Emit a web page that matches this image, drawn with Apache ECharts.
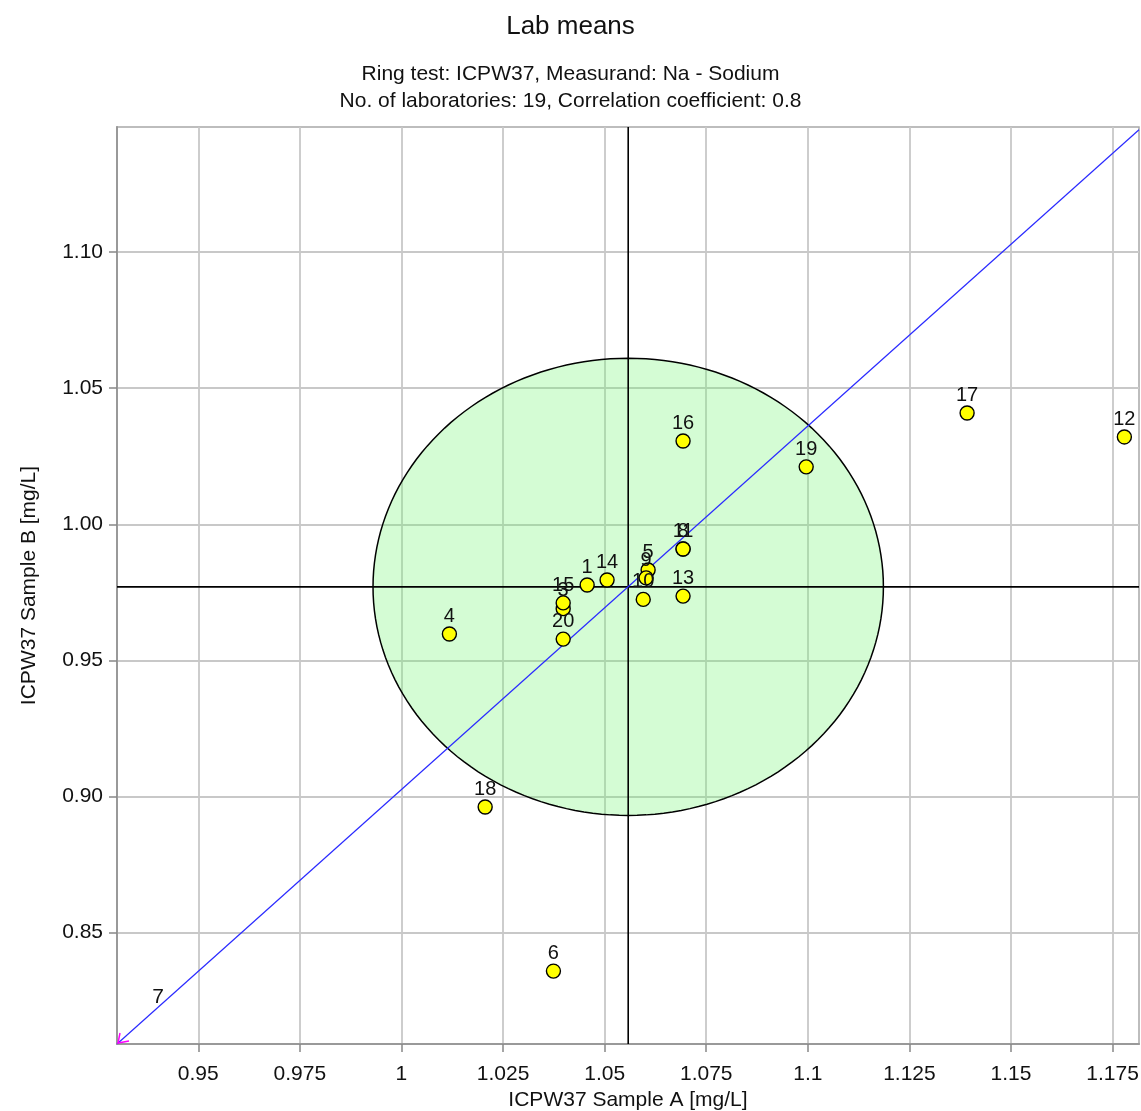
<!DOCTYPE html>
<html><head><meta charset="utf-8">
<script src="https://cdn.jsdelivr.net/npm/echarts@6/dist/echarts.min.js"></script>
<style>html,body{margin:0;padding:0;background:#fff}#c{width:1141px;height:1111px}</style>
</head><body><div id="c"></div>
<script>
// ---- data ----
const labIds  = ['1',    '3',    '4',    '5',    '6',    '8',    '9',    '10',   '11',   '12',   '13',   '14',   '15',   '16',   '17',   '18',   '19',   '20'];
const sampleA = [1.0457, 1.0398, 1.0118, 1.0607, 1.0374, 1.0693, 1.0602, 1.0595, 1.0693, 1.1779, 1.0693, 1.0506, 1.0398, 1.0693, 1.1392, 1.0206, 1.0996, 1.0398];
const sampleB = [0.9777, 0.9690, 0.9597, 0.9832, 0.8358, 0.9909, 0.9803, 0.9724, 0.9909, 1.0321, 0.9736, 0.9795, 0.9711, 1.0306, 1.0409, 0.8961, 1.0211, 0.9578];
// lab outside the plotted range (shown with an arrow at the corner)
const outLabIds = ['7'];
const outA = [0.85];
const outB = [0.70];
// centre (medians), tolerance ellipse half-axes, regression line ends
const centreA = 1.0558, centreB = 0.9770;
const ellipseHalfA = 0.0628, ellipseHalfB = 0.0840;
const lineA = [0.9300, 1.1815];
const lineB = [0.8090, 1.1450];
// axes
const xRange = [0.9300, 1.1815];
const yRange = [0.8090, 1.1460];
const xTicks = [0.95, 0.975, 1, 1.025, 1.05, 1.075, 1.1, 1.125, 1.15, 1.175];
const xTickLabels = ['0.95', '0.975', '1', '1.025', '1.05', '1.075', '1.1', '1.125', '1.15', '1.175'];
const yTicks = [0.85, 0.90, 0.95, 1.00, 1.05, 1.10];
const yTickLabels = ['0.85', '0.90', '0.95', '1.00', '1.05', '1.10'];

const titleText = 'Lab means';
const subText = 'Ring test: ICPW37, Measurand: Na - Sodium\nNo. of laboratories: 19, Correlation coefficient: 0.8';
const xName = 'ICPW37 Sample A [mg/L]';
const yName = 'ICPW37 Sample B [mg/L]';

// ---- chart ----
const FONT = '"Liberation Sans", Arial, sans-serif';
const points = labIds.map((id, i) => [sampleA[i], sampleB[i], id]);
const outPoints = outLabIds.map((id, i) => [outA[i], outB[i], id]);

function labelFor(ticks, labels) {
  return v => { for (let i = 0; i < ticks.length; i++) if (Math.abs(ticks[i] - v) < 1e-9) return labels[i]; return ''; };
}

const chart = echarts.init(document.getElementById('c'), null, {renderer: 'canvas'});
chart.setOption({
  backgroundColor: '#fff',
  animation: false,
  title: [
    {text: titleText, left: 'center', top: 9, textStyle: {fontFamily: FONT, fontSize: 26, fontWeight: 'normal', color: '#111'}},
    {text: subText, left: 'center', top: 56, textStyle: {fontFamily: FONT, fontSize: 21, fontWeight: 'normal', color: '#111', lineHeight: 27}}
  ],
  grid: {left: 117, top: 127, right: 2, bottom: 67, containLabel: false, outerBoundsMode: 'none',
         show: true, borderColor: '#a8a8a8', borderWidth: 1.5, backgroundColor: 'transparent'},
  xAxis: {
    type: 'value', min: xRange[0], max: xRange[1],
    name: xName, nameLocation: 'middle', nameGap: 45,
    nameTextStyle: {fontFamily: FONT, fontSize: 21, color: '#111'},
    axisLine: {show: true, lineStyle: {color: '#999', width: 2}},
    axisTick: {show: true, length: 8, customValues: xTicks, lineStyle: {color: '#888', width: 1.5}},
    axisLabel: {customValues: xTicks, formatter: labelFor(xTicks, xTickLabels), margin: 20, fontFamily: FONT, fontSize: 21, color: '#111', showMinLabel: true, showMaxLabel: true},
    splitLine: {show: true, lineStyle: {color: '#c8c8c8', width: 1.8}}
  },
  yAxis: {
    type: 'value', min: yRange[0], max: yRange[1],
    name: yName, nameLocation: 'middle', nameGap: 77,
    nameTextStyle: {fontFamily: FONT, fontSize: 21, color: '#111'},
    axisLine: {show: true, lineStyle: {color: '#999', width: 2}},
    axisTick: {show: true, length: 8, customValues: yTicks, lineStyle: {color: '#888', width: 1.5}},
    axisLabel: {customValues: yTicks, formatter: labelFor(yTicks, yTickLabels), margin: 14, fontFamily: FONT, fontSize: 21, color: '#111'},
    splitLine: {show: true, lineStyle: {color: '#c8c8c8', width: 1.8}}
  },
  series: [
    { // tolerance ellipse
      type: 'custom', silent: true, z: 1,
      data: [[centreA, centreB]],
      renderItem: (params, api) => {
        const pts = [];
        const n = 180;
        for (let i = 0; i <= n; i++) {
          const t = i / n * 2 * Math.PI;
          pts.push(api.coord([centreA + ellipseHalfA * Math.cos(t), centreB + ellipseHalfB * Math.sin(t)]));
        }
        return {type: 'polygon', shape: {points: pts}, style: {fill: 'rgba(112,245,112,0.30)', stroke: '#000', lineWidth: 1.5}};
      }
    },
    { // cross lines through the centre
      type: 'custom', silent: true, z: 2,
      data: [[centreA, centreB]],
      renderItem: (params, api) => {
        const a = api.value(0), b = api.value(1);
        const v0 = api.coord([a, yRange[0]]), v1 = api.coord([a, yRange[1]]);
        const h0 = api.coord([xRange[0], b]), h1 = api.coord([xRange[1], b]);
        return {type: 'group', children: [
          {type: 'line', shape: {x1: v0[0], y1: v0[1], x2: v1[0], y2: v1[1]}, style: {stroke: '#000', lineWidth: 1.6}},
          {type: 'line', shape: {x1: h0[0], y1: h0[1], x2: h1[0], y2: h1[1]}, style: {stroke: '#000', lineWidth: 1.6}}
        ]};
      }
    },
    { // regression line
      type: 'line', z: 3, silent: true, symbol: 'none',
      data: [[lineA[0], lineB[0]], [lineA[1], lineB[1]]],
      lineStyle: {color: '#2a2aff', width: 1.2}
    },
    { // out-of-range lab: arrow at the plot corner
      type: 'custom', z: 4, silent: true,
      data: outPoints,
      renderItem: (params, api) => {
        const a = Math.max(api.value(0), xRange[0]);
        const b = Math.max(api.value(1), yRange[0]);
        const p = api.coord([a, b]);
        return {type: 'group', children: [
          {type: 'polyline', shape: {points: [[p[0] + 3, p[1] - 11], [p[0] + 1, p[1] - 1], [p[0] + 12, p[1] - 3]]}, style: {stroke: '#ff00ff', lineWidth: 1.5, fill: null}},
          {type: 'text', style: {text: outLabIds[params.dataIndex], x: p[0] + 41, y: p[1] - 47, align: 'center', verticalAlign: 'middle', font: '21px ' + FONT, fill: '#111'}}
        ]};
      }
    },
    { // labs
      type: 'scatter', z: 5,
      data: points,
      symbol: 'circle', symbolSize: 14,
      itemStyle: {color: '#ffff00', borderColor: '#000', borderWidth: 1.4, opacity: 1},
      label: {show: true, position: 'top', distance: 0, formatter: p => p.data[2], fontFamily: FONT, fontSize: 20, color: '#111'}
    }
  ]
});
</script></body></html>
